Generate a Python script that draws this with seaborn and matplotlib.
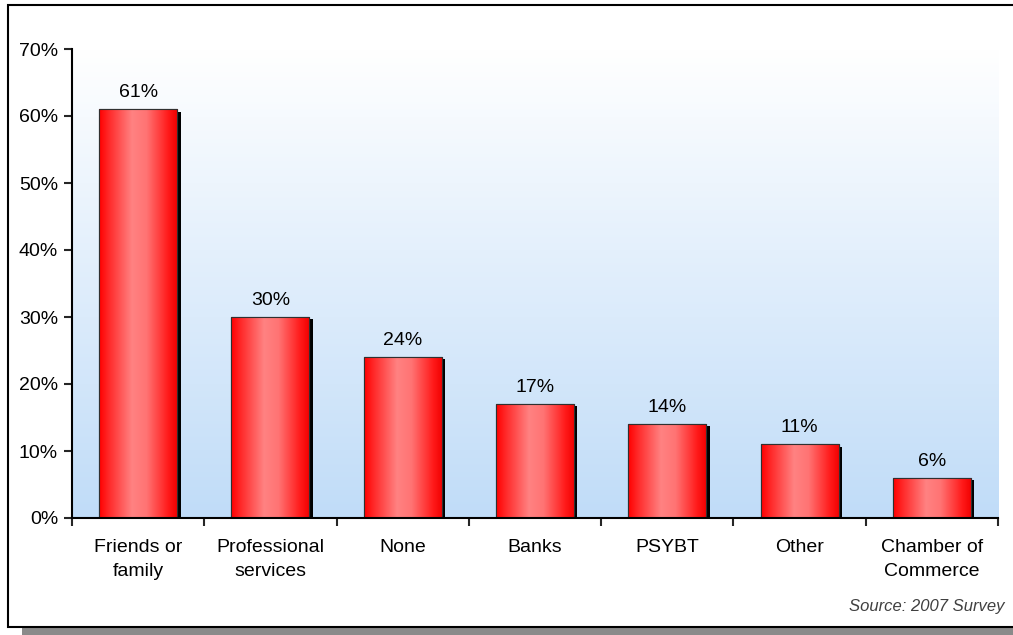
import numpy as np
import pandas as pd
import matplotlib
matplotlib.use("Agg")
import matplotlib.pyplot as plt
import matplotlib.patheffects as pe
from matplotlib.colors import LinearSegmentedColormap
from matplotlib.patches import Rectangle
import seaborn as sns

categories = ["Friends or\nfamily", "Professional\nservices", "None", "Banks",
              "PSYBT", "Other", "Chamber of\nCommerce"]
shares = [61, 30, 24, 17, 14, 11, 6]
y_ticks = [0, 10, 20, 30, 40, 50, 60, 70]
source_note = "Source: 2007 Survey"

sns.set_style("ticks")
plt.rcParams["font.family"] = ["Liberation Sans", "DejaVu Sans"]

df = pd.DataFrame({"source": categories, "share": shares})

fig = plt.figure(figsize=(10.13, 6.35), dpi=100)
fig.patch.set_facecolor("white")

# outer frame with a grey drop shadow along the bottom
fig.add_artist(Rectangle((22 / 1013, 0), 1.0, 8 / 635, transform=fig.transFigure,
                         facecolor="#8a8a8a", edgecolor="none", zorder=-3))
fig.add_artist(Rectangle((8 / 1013, 8 / 635), 1.0, 622 / 635, transform=fig.transFigure,
                         facecolor="white", edgecolor="black", linewidth=1.5, zorder=-2))

ax = fig.add_axes([72 / 1013, 1 - 518 / 635, 926 / 1013, 469 / 635])
ax.set_facecolor("none")

sns.barplot(data=df, x="source", y="share", ax=ax, width=0.59,
            color="#ff2020", edgecolor="#303030", linewidth=0.8, zorder=3)

ax.set_xlim(-0.5, len(categories) - 0.5)
ax.set_ylim(0, 70)

# vertical background wash: white at the top, pale blue at the bottom
bg = LinearSegmentedColormap.from_list("bg", ["#c0dcf8", "#ffffff"])
ax.imshow(np.linspace(0, 1, 256).reshape(-1, 1), cmap=bg, aspect="auto",
          extent=(-0.5, len(categories) - 0.5, 0, 70), origin="lower", zorder=0)

# cylindrical red shading across each bar
bar_cmap = LinearSegmentedColormap.from_list(
    "bar", [(0.0, "#ff0000"), (0.12, "#ff2828"), (0.42, "#ff8282"),
            (0.6, "#ff7474"), (0.88, "#ff1a1a"), (1.0, "#f00000")])
grad = np.linspace(0, 1, 256).reshape(1, -1)
for patch in ax.patches:
    x0, w, h = patch.get_x(), patch.get_width(), patch.get_height()
    patch.set_path_effects([pe.SimplePatchShadow(offset=(2.4, -1.6),
                                                 shadow_rgbFace="black", alpha=1.0),
                            pe.Normal()])
    im = ax.imshow(grad, cmap=bar_cmap, aspect="auto",
                   extent=(x0, x0 + w, 0, h), zorder=3.5)
    im.set_clip_path(patch)
    ax.add_patch(Rectangle((x0, 0), w, h, facecolor="none", edgecolor="#303030",
                           linewidth=0.8, zorder=4))

for i, v in enumerate(shares):
    ax.text(i, v + 1.2, f"{v}%", ha="center", va="bottom", fontsize=14,
            color="black", zorder=5)

ax.set_xlabel("")
ax.set_ylabel("")
ax.set_yticks(y_ticks)
ax.set_yticklabels([f"{t}%" for t in y_ticks], fontsize=14, color="black")
ax.set_xticks(range(len(categories)))
ax.set_xticklabels(categories, fontsize=14, linespacing=1.55, color="black")
ax.set_xticks(np.arange(-0.5, len(categories)), minor=True)
ax.tick_params(axis="x", which="major", length=0, pad=15)
ax.tick_params(axis="x", which="minor", length=6, width=1.5, direction="out")
ax.tick_params(axis="y", length=6, width=1.5, direction="out", pad=4)

sns.despine(ax=ax, top=True, right=True)
for side in ("left", "bottom"):
    ax.spines[side].set_linewidth(1.5)
    ax.spines[side].set_color("black")
    ax.spines[side].set_zorder(6)

fig.text(1004 / 1013, 1 - 607 / 635, source_note, ha="right", va="center",
         fontsize=12, style="italic", color="#404040")

fig.savefig("out.png", dpi=100, facecolor="white")
